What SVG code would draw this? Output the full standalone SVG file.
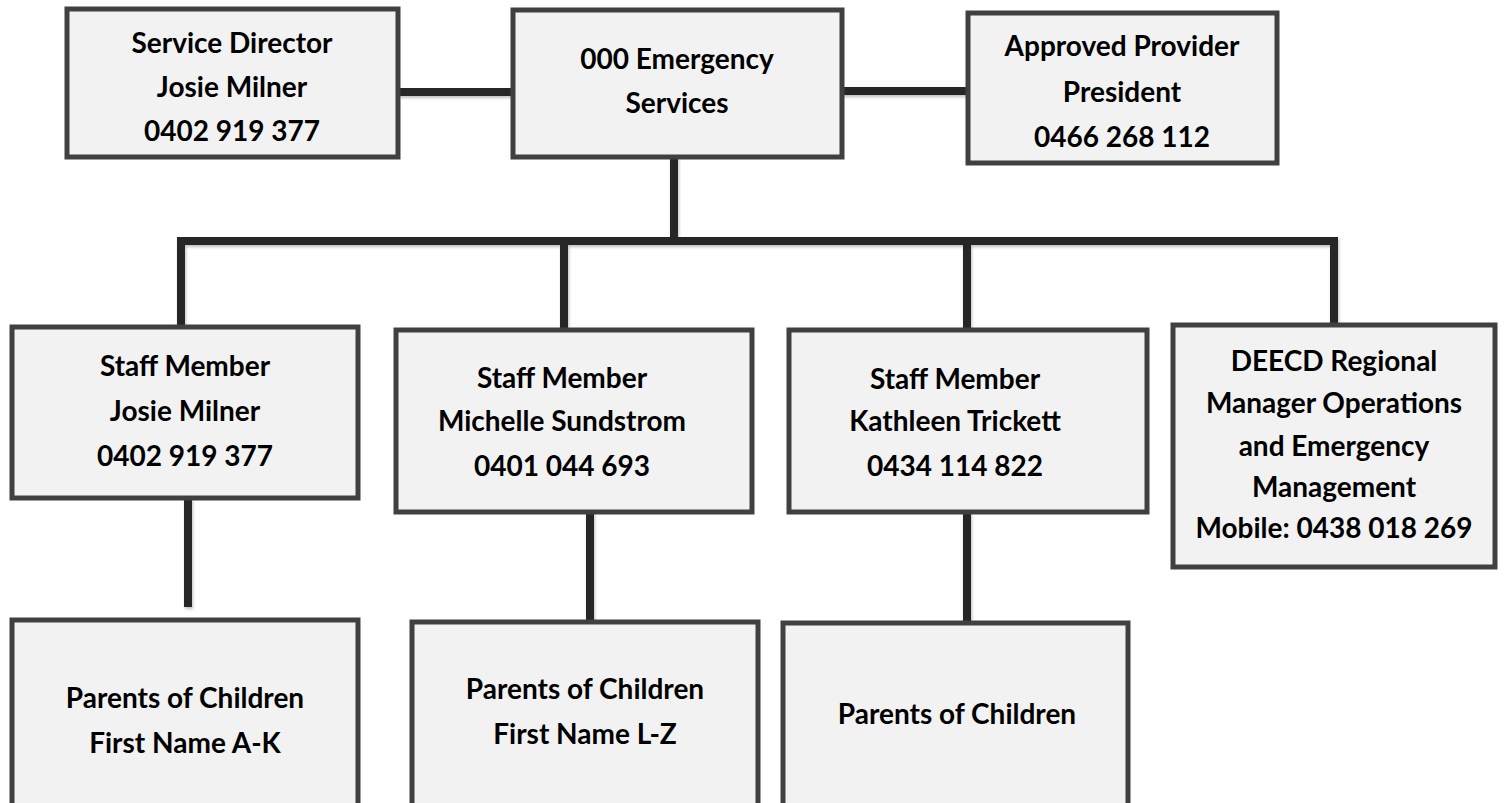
<svg xmlns="http://www.w3.org/2000/svg" width="1504" height="803" viewBox="0 0 1504 803">
<defs>
<style>
.box{fill:#f2f2f2;stroke:#404040;stroke-width:5;}
.t{font-family:Lato,"Open Sans",sans-serif;font-weight:700;font-size:28px;fill:#000;text-anchor:middle;}
.c{stroke:#262626;stroke-width:8;fill:none;stroke-linecap:butt;}
</style>
<filter id="sh" x="-20%" y="-20%" width="140%" height="140%">
<feDropShadow dx="1" dy="2" stdDeviation="1.5" flood-color="#000" flood-opacity="0.25"/>
</filter>
</defs>
<rect width="1504" height="803" fill="#fff"/>
<g id="connectors" filter="url(#sh)">
<line class="c" x1="398" y1="92" x2="513" y2="92"/>
<line class="c" x1="842" y1="91" x2="968" y2="91"/>
<line class="c" x1="674" y1="157" x2="674" y2="241"/>
<line class="c" x1="177" y1="241" x2="1338" y2="241"/>
<line class="c" x1="181" y1="241" x2="181" y2="327"/>
<line class="c" x1="564" y1="241" x2="564" y2="330"/>
<line class="c" x1="967" y1="241" x2="967" y2="330"/>
<line class="c" x1="1334" y1="241" x2="1334" y2="325"/>
<line class="c" x1="188" y1="498" x2="188" y2="607"/>
<line class="c" x1="590" y1="512" x2="590" y2="622"/>
<line class="c" x1="967" y1="512" x2="967" y2="623"/>
</g>
<g id="service-director">
<rect class="box" x="67" y="9" width="331" height="148"/>
<text class="t" x="232" y="53">Service Director</text>
<text class="t" x="232" y="97">Josie Milner</text>
<text class="t" x="232" y="141">0402 919 377</text>
</g>
<g id="emergency">
<rect class="box" x="513" y="10" width="329" height="147"/>
<text class="t" x="677" y="69">000 Emergency</text>
<text class="t" x="677" y="113">Services</text>
</g>
<g id="approved-provider">
<rect class="box" x="968" y="13" width="309" height="150"/>
<text class="t" x="1122" y="56">Approved Provider</text>
<text class="t" x="1122" y="102">President</text>
<text class="t" x="1122" y="147">0466 268 112</text>
</g>
<g id="staff-josie">
<rect class="box" x="12" y="327" width="346" height="171"/>
<text class="t" x="185" y="376">Staff Member</text>
<text class="t" x="185" y="421">Josie Milner</text>
<text class="t" x="185" y="466">0402 919 377</text>
</g>
<g id="staff-michelle">
<rect class="box" x="396" y="330" width="356" height="182"/>
<text class="t" x="562" y="388">Staff Member</text>
<text class="t" x="562" y="431">Michelle Sundstrom</text>
<text class="t" x="562" y="476">0401 044 693</text>
</g>
<g id="staff-kathleen">
<rect class="box" x="789" y="330" width="358" height="182"/>
<text class="t" x="955" y="389">Staff Member</text>
<text class="t" x="955" y="431">Kathleen Trickett</text>
<text class="t" x="955" y="476">0434 114 822</text>
</g>
<g id="deecd">
<rect class="box" x="1173" y="325" width="322" height="242"/>
<text class="t" x="1334" y="371">DEECD Regional</text>
<text class="t" x="1334" y="413">Manager Operations</text>
<text class="t" x="1334" y="456">and Emergency</text>
<text class="t" x="1334" y="497">Management</text>
<text class="t" x="1334" y="538">Mobile: 0438 018 269</text>
</g>
<g id="parents-ak">
<rect class="box" x="12" y="620" width="346" height="200"/>
<text class="t" x="185" y="708">Parents of Children</text>
<text class="t" x="185" y="753">First Name A-K</text>
</g>
<g id="parents-lz">
<rect class="box" x="412" y="622" width="346" height="200"/>
<text class="t" x="585" y="699">Parents of Children</text>
<text class="t" x="585" y="744">First Name L-Z</text>
</g>
<g id="parents-kt">
<rect class="box" x="783" y="623" width="345" height="200"/>
<text class="t" x="957" y="724">Parents of Children</text>
</g>
</svg>
